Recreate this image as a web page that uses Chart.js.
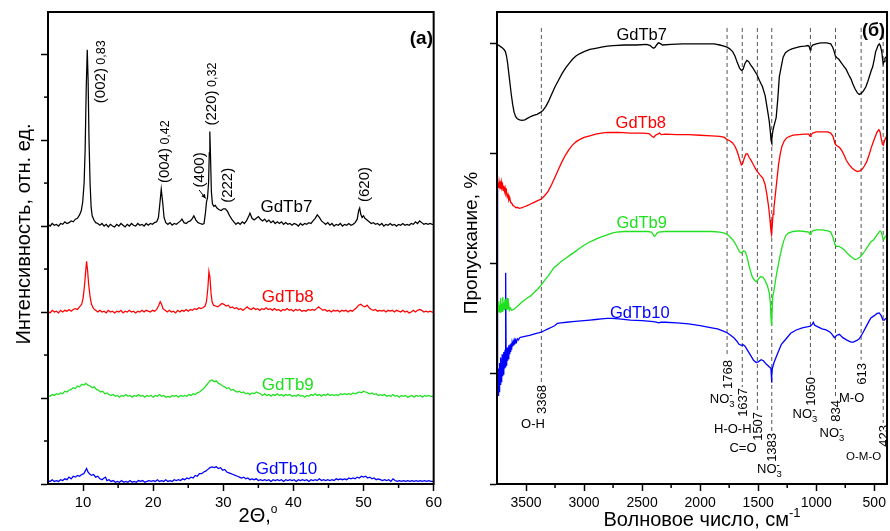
<!DOCTYPE html>
<html><head><meta charset="utf-8">
<script src="https://cdn.jsdelivr.net/npm/chart.js@4.4.1/dist/chart.umd.min.js"></script>
<style>
html,body{margin:0;padding:0;background:#fff;}
#wrap{position:relative;width:890px;height:531px;background:#fff;}
#c1{position:absolute;left:0;top:0;}
#c2{position:absolute;left:445px;top:0;}
</style></head><body>
<div id="wrap"><canvas id="c1" width="445" height="531"></canvas><canvas id="c2" width="445" height="531"></canvas></div>
<script>
// ---------------- DATA: XRD (panel a) ----------------
const seriesNames = ['GdTb7', 'GdTb8', 'GdTb9', 'GdTb10'];
const xrdTicksX = [10, 20, 30, 40, 50, 60];
const xrdMinorX = [15, 25, 35, 45, 55];
const xrdTicksY = [0, 1, 2, 3, 4, 5];
const xrdMinorY = [0.5, 1.5, 2.5, 3.5, 4.5];

const xrdGdTb7 = [[5.0,3.02],[5.3,3.00],[5.6,3.03],[5.9,3.01],[6.2,3.02],[6.5,3.00],[6.8,3.03],[7.1,3.02],[7.4,3.05],[7.7,3.03],[8.0,3.04],[8.3,3.06],[8.6,3.05],[8.9,3.08],[9.2,3.09],[9.5,3.13],[9.75,3.18],[9.95,3.28],[10.15,3.5],[10.3,3.9],[10.45,4.6],[10.6,5.05],[10.72,4.7],[10.85,4.0],[11.0,3.5],[11.15,3.22],[11.3,3.12],[11.55,3.07],[11.8,3.04],[12.1,3.03],[12.4,3.01],[12.7,3.03],[13.0,3.00],[13.3,3.02],[13.6,2.99],[13.9,3.02],[14.2,3.00],[14.5,2.99],[14.8,3.02],[15.1,3.00],[15.4,3.03],[15.7,3.01],[16.0,2.99],[16.3,3.02],[16.6,3.00],[16.9,3.03],[17.2,3.01],[17.5,3.00],[17.8,3.03],[18.1,3.01],[18.4,3.02],[18.7,3.00],[19.0,3.03],[19.3,3.01],[19.6,3.03],[19.9,3.02],[20.2,3.04],[20.5,3.05],[20.75,3.1],[20.95,3.26],[21.15,3.43],[21.35,3.28],[21.55,3.1],[21.8,3.04],[22.1,3.02],[22.4,3.04],[22.7,3.01],[23.0,3.03],[23.3,3.02],[23.6,3.04],[23.9,3.06],[24.1,3.08],[24.4,3.04],[24.7,3.03],[25.0,3.05],[25.3,3.06],[25.6,3.09],[25.8,3.12],[26.1,3.07],[26.4,3.04],[26.7,3.03],[27.0,3.02],[27.25,3.03],[27.45,3.15],[27.6,3.28],[27.75,3.33],[27.9,3.5],[28.0,3.85],[28.08,4.10],[28.18,3.8],[28.3,3.4],[28.45,3.26],[28.65,3.23],[28.85,3.24],[29.1,3.21],[29.4,3.19],[29.7,3.18],[30.0,3.20],[30.3,3.20],[30.6,3.17],[30.9,3.12],[31.2,3.08],[31.5,3.05],[31.8,3.02],[32.1,3.04],[32.4,3.02],[32.7,3.05],[33.0,3.03],[33.3,3.06],[33.6,3.11],[33.8,3.15],[34.1,3.09],[34.4,3.07],[34.7,3.09],[35.0,3.11],[35.3,3.08],[35.6,3.06],[35.9,3.08],[36.2,3.05],[36.5,3.07],[36.8,3.04],[37.1,3.06],[37.4,3.03],[37.7,3.05],[38.0,3.03],[38.3,3.05],[38.6,3.02],[38.9,3.04],[39.2,3.02],[39.5,3.03],[39.8,3.01],[40.1,3.03],[40.4,3.02],[40.7,3.00],[41.0,3.03],[41.3,3.01],[41.6,3.03],[41.9,3.02],[42.2,3.04],[42.5,3.03],[42.8,3.06],[43.1,3.09],[43.4,3.13],[43.7,3.10],[44.0,3.06],[44.3,3.04],[44.6,3.02],[44.9,3.04],[45.2,3.01],[45.5,3.03],[45.8,3.00],[46.1,3.02],[46.4,3.01],[46.7,3.03],[47.0,3.00],[47.3,3.02],[47.6,3.01],[47.9,3.03],[48.2,3.01],[48.5,3.02],[48.8,3.04],[49.1,3.08],[49.3,3.18],[49.45,3.21],[49.6,3.14],[49.8,3.10],[50.0,3.12],[50.2,3.09],[50.5,3.07],[50.8,3.05],[51.1,3.03],[51.4,3.04],[51.7,3.02],[52.0,3.03],[52.3,3.01],[52.6,3.03],[52.9,3.00],[53.2,3.02],[53.5,3.01],[53.8,3.03],[54.1,3.01],[54.4,3.02],[54.7,3.00],[55.0,3.02],[55.3,3.01],[55.6,3.03],[55.9,3.01],[56.2,3.02],[56.5,3.01],[56.8,3.03],[57.1,3.02],[57.4,3.05],[57.7,3.03],[58.0,3.06],[58.3,3.04],[58.6,3.02],[58.9,3.03],[59.2,3.02],[59.5,3.03],[59.8,3.02],[60.0,3.02]];

const xrdGdTb8 = [[5.0,2.01],[5.3,1.99],[5.6,2.02],[5.9,2.00],[6.2,2.01],[6.5,1.99],[6.8,2.02],[7.1,2.00],[7.4,2.02],[7.7,2.01],[8.0,2.03],[8.3,2.01],[8.6,2.03],[8.9,2.04],[9.2,2.03],[9.5,2.06],[9.8,2.09],[10.0,2.16],[10.2,2.30],[10.35,2.45],[10.5,2.59],[10.65,2.48],[10.8,2.32],[11.0,2.18],[11.2,2.09],[11.5,2.04],[11.8,2.02],[12.1,2.00],[12.4,2.02],[12.7,2.00],[13.0,2.01],[13.3,1.99],[13.6,2.02],[13.9,2.00],[14.2,2.01],[14.5,1.99],[14.8,2.01],[15.1,2.00],[15.4,2.02],[15.7,1.99],[16.0,2.01],[16.3,2.00],[16.6,2.02],[16.9,2.00],[17.2,2.01],[17.5,1.99],[17.8,2.01],[18.1,2.00],[18.4,2.02],[18.7,2.00],[19.0,2.02],[19.3,2.01],[19.6,2.00],[19.9,2.02],[20.2,2.01],[20.5,2.03],[20.8,2.08],[21.0,2.12],[21.2,2.09],[21.4,2.04],[21.7,2.02],[22.0,2.00],[22.3,2.02],[22.6,2.00],[22.9,2.01],[23.2,1.99],[23.5,2.02],[23.8,2.00],[24.1,2.02],[24.4,2.01],[24.7,2.03],[25.0,2.01],[25.3,2.03],[25.6,2.02],[25.9,2.04],[26.2,2.03],[26.5,2.05],[26.8,2.04],[27.1,2.05],[27.4,2.07],[27.6,2.12],[27.8,2.28],[27.95,2.47],[28.1,2.40],[28.25,2.22],[28.4,2.12],[28.6,2.08],[28.9,2.07],[29.2,2.06],[29.5,2.08],[29.8,2.10],[30.1,2.09],[30.4,2.07],[30.7,2.08],[31.0,2.05],[31.3,2.06],[31.6,2.04],[31.9,2.05],[32.2,2.03],[32.5,2.04],[32.8,2.02],[33.1,2.04],[33.4,2.06],[33.7,2.04],[34.0,2.03],[34.3,2.05],[34.6,2.03],[34.9,2.04],[35.2,2.02],[35.5,2.04],[35.8,2.03],[36.1,2.05],[36.4,2.03],[36.7,2.04],[37.0,2.02],[37.3,2.04],[37.6,2.02],[37.9,2.03],[38.2,2.01],[38.5,2.03],[38.8,2.02],[39.1,2.04],[39.4,2.02],[39.7,2.03],[40.0,2.01],[40.3,2.03],[40.6,2.02],[40.9,2.03],[41.2,2.01],[41.5,2.02],[41.8,2.01],[42.1,2.03],[42.4,2.02],[42.7,2.03],[43.0,2.02],[43.3,2.04],[43.6,2.06],[43.9,2.04],[44.2,2.02],[44.5,2.03],[44.8,2.01],[45.1,2.02],[45.4,2.00],[45.7,2.02],[46.0,2.01],[46.3,2.02],[46.6,2.00],[46.9,2.02],[47.2,2.01],[47.5,2.02],[47.8,2.00],[48.1,2.02],[48.4,2.01],[48.7,2.03],[49.0,2.05],[49.3,2.08],[49.6,2.09],[49.9,2.07],[50.2,2.06],[50.5,2.08],[50.8,2.05],[51.1,2.03],[51.4,2.02],[51.7,2.03],[52.0,2.01],[52.3,2.02],[52.6,2.01],[52.9,2.02],[53.2,2.00],[53.5,2.02],[53.8,2.01],[54.1,2.02],[54.4,2.00],[54.7,2.02],[55.0,2.01],[55.3,2.00],[55.6,2.02],[55.9,2.00],[56.2,2.01],[56.5,1.99],[56.8,2.00],[57.1,2.02],[57.4,2.00],[57.7,2.02],[58.0,2.03],[58.3,2.02],[58.6,2.00],[58.9,2.01],[59.2,2.00],[59.5,2.01],[59.8,2.00],[60.0,2.00]];

const xrdGdTb9 = [[5.0,1.03],[5.3,1.02],[5.6,1.04],[5.9,1.03],[6.2,1.05],[6.5,1.04],[6.8,1.06],[7.1,1.05],[7.4,1.08],[7.7,1.07],[8.0,1.09],[8.3,1.10],[8.6,1.12],[8.9,1.11],[9.2,1.14],[9.5,1.13],[9.8,1.16],[10.1,1.15],[10.4,1.17],[10.7,1.15],[11.0,1.14],[11.3,1.12],[11.6,1.13],[11.9,1.10],[12.2,1.09],[12.5,1.07],[12.8,1.08],[13.1,1.05],[13.4,1.06],[13.7,1.04],[14.0,1.03],[14.3,1.04],[14.6,1.02],[14.9,1.03],[15.2,1.01],[15.5,1.03],[15.8,1.02],[16.1,1.04],[16.4,1.02],[16.7,1.03],[17.0,1.01],[17.3,1.03],[17.6,1.02],[17.9,1.04],[18.2,1.02],[18.5,1.03],[18.8,1.01],[19.1,1.03],[19.4,1.02],[19.7,1.03],[20.0,1.01],[20.3,1.03],[20.6,1.02],[20.9,1.04],[21.2,1.02],[21.5,1.03],[21.8,1.01],[22.1,1.02],[22.4,1.01],[22.7,1.03],[23.0,1.02],[23.3,1.03],[23.6,1.01],[23.9,1.03],[24.2,1.02],[24.5,1.03],[24.8,1.02],[25.1,1.04],[25.4,1.03],[25.7,1.05],[26.0,1.04],[26.3,1.06],[26.6,1.07],[26.9,1.09],[27.2,1.11],[27.5,1.14],[27.8,1.17],[28.1,1.20],[28.4,1.21],[28.7,1.19],[29.0,1.20],[29.3,1.17],[29.6,1.16],[29.9,1.14],[30.2,1.13],[30.5,1.11],[30.8,1.12],[31.1,1.09],[31.4,1.10],[31.7,1.08],[32.0,1.07],[32.3,1.08],[32.6,1.06],[32.9,1.07],[33.2,1.05],[33.5,1.06],[33.8,1.04],[34.1,1.06],[34.4,1.05],[34.7,1.07],[35.0,1.06],[35.3,1.05],[35.6,1.03],[35.9,1.05],[36.2,1.03],[36.5,1.04],[36.8,1.02],[37.1,1.04],[37.4,1.03],[37.7,1.05],[38.0,1.03],[38.3,1.04],[38.6,1.02],[38.9,1.04],[39.2,1.03],[39.5,1.04],[39.8,1.02],[40.1,1.03],[40.4,1.02],[40.7,1.04],[41.0,1.02],[41.3,1.03],[41.6,1.01],[41.9,1.03],[42.2,1.02],[42.5,1.04],[42.8,1.03],[43.1,1.05],[43.4,1.03],[43.7,1.04],[44.0,1.02],[44.3,1.04],[44.6,1.03],[44.9,1.05],[45.2,1.03],[45.5,1.04],[45.8,1.03],[46.1,1.04],[46.4,1.03],[46.7,1.05],[47.0,1.04],[47.3,1.05],[47.6,1.04],[47.9,1.05],[48.2,1.04],[48.5,1.06],[48.8,1.05],[49.1,1.06],[49.4,1.07],[49.7,1.06],[50.0,1.08],[50.3,1.07],[50.6,1.06],[50.9,1.05],[51.2,1.06],[51.5,1.04],[51.8,1.05],[52.1,1.03],[52.4,1.04],[52.7,1.03],[53.0,1.04],[53.3,1.02],[53.6,1.03],[53.9,1.02],[54.2,1.04],[54.5,1.02],[54.8,1.03],[55.1,1.01],[55.4,1.03],[55.7,1.02],[56.0,1.03],[56.3,1.01],[56.6,1.02],[56.9,1.03],[57.2,1.01],[57.5,1.03],[57.8,1.02],[58.1,1.03],[58.4,1.01],[58.7,1.03],[59.0,1.02],[59.3,1.03],[59.6,1.02],[60.0,1.02]];

const xrdGdTb10 = [[5.0,0.04],[5.3,0.03],[5.6,0.05],[5.9,0.03],[6.2,0.04],[6.5,0.03],[6.8,0.05],[7.1,0.04],[7.4,0.06],[7.7,0.05],[8.0,0.08],[8.3,0.06],[8.6,0.09],[8.9,0.08],[9.2,0.10],[9.5,0.09],[9.8,0.11],[10.1,0.12],[10.3,0.15],[10.5,0.18],[10.7,0.14],[10.9,0.12],[11.2,0.10],[11.5,0.11],[11.8,0.08],[12.1,0.09],[12.4,0.06],[12.7,0.05],[13.0,0.07],[13.2,0.08],[13.4,0.04],[13.7,0.05],[14.0,0.03],[14.3,0.04],[14.6,0.02],[14.9,0.03],[15.2,0.02],[15.5,0.04],[15.8,0.02],[16.1,0.03],[16.4,0.02],[16.7,0.04],[17.0,0.02],[17.3,0.03],[17.6,0.02],[17.9,0.04],[18.2,0.03],[18.5,0.04],[18.8,0.02],[19.1,0.03],[19.4,0.04],[19.7,0.03],[20.0,0.04],[20.3,0.03],[20.6,0.05],[20.9,0.03],[21.2,0.04],[21.5,0.03],[21.8,0.05],[22.1,0.03],[22.4,0.04],[22.7,0.03],[23.0,0.05],[23.3,0.04],[23.6,0.05],[23.9,0.04],[24.2,0.06],[24.5,0.05],[24.8,0.07],[25.1,0.06],[25.4,0.08],[25.7,0.07],[26.0,0.10],[26.3,0.09],[26.6,0.12],[26.9,0.12],[27.2,0.14],[27.5,0.15],[27.8,0.17],[28.1,0.19],[28.4,0.20],[28.7,0.19],[29.0,0.20],[29.3,0.18],[29.6,0.19],[29.9,0.16],[30.2,0.17],[30.5,0.14],[30.8,0.13],[31.1,0.12],[31.4,0.11],[31.7,0.10],[32.0,0.09],[32.3,0.08],[32.6,0.07],[32.9,0.08],[33.2,0.06],[33.5,0.07],[33.8,0.05],[34.1,0.06],[34.4,0.05],[34.7,0.06],[35.0,0.04],[35.3,0.05],[35.6,0.04],[35.9,0.05],[36.2,0.04],[36.5,0.05],[36.8,0.03],[37.1,0.05],[37.4,0.04],[37.7,0.05],[38.0,0.04],[38.3,0.05],[38.6,0.03],[38.9,0.05],[39.2,0.04],[39.5,0.05],[39.8,0.04],[40.1,0.05],[40.4,0.03],[40.7,0.05],[41.0,0.04],[41.3,0.05],[41.6,0.04],[41.9,0.05],[42.2,0.03],[42.5,0.05],[42.8,0.04],[43.1,0.05],[43.4,0.04],[43.7,0.06],[44.0,0.04],[44.3,0.05],[44.6,0.04],[44.9,0.05],[45.2,0.04],[45.5,0.05],[45.8,0.04],[46.1,0.06],[46.4,0.05],[46.7,0.06],[47.0,0.05],[47.3,0.06],[47.6,0.05],[47.9,0.07],[48.2,0.06],[48.5,0.07],[48.8,0.06],[49.1,0.08],[49.4,0.07],[49.7,0.09],[50.0,0.08],[50.3,0.09],[50.6,0.07],[50.9,0.08],[51.2,0.06],[51.5,0.07],[51.8,0.05],[52.1,0.06],[52.4,0.05],[52.7,0.04],[53.0,0.05],[53.3,0.04],[53.6,0.05],[53.9,0.03],[54.2,0.06],[54.5,0.04],[54.8,0.03],[55.1,0.04],[55.4,0.03],[55.7,0.04],[56.0,0.03],[56.3,0.04],[56.6,0.03],[56.9,0.04],[57.2,0.03],[57.5,0.04],[57.8,0.03],[58.1,0.04],[58.4,0.03],[58.7,0.04],[59.0,0.03],[59.3,0.04],[59.6,0.03],[60.0,0.03]];

// peak annotations: [text, small text, 2theta, bottom value]
const xrdPeakLabels = [['(002)',' 0,83',12.4,4.43],['(004)',' 0,42',21.46,3.5],['(400)','',26.5,3.45],['(220)',' 0,32',28.15,4.17],['(222)','',30.4,3.27],['(620)','',50.05,3.28]];
const xrdArrow = [[26.55,3.42],[27.5,3.32]];
const xrdNameAt = [[39.0,3.24],[39.2,2.19],[39.2,1.17],[39.0,0.19]];

// ---------------- DATA: IR (panel б) ----------------
const irTicksX = [3500, 3000, 2500, 2000, 1500, 1000, 500];
const irMinorX = [3250, 2750, 2250, 1750, 1250, 750];
const irTicksY = [0, 1, 2, 3, 4];

const irGdTb7 = [[3748,3.98],[3735,3.99],[3720,3.975],[3705,3.965],[3690,3.95],[3678,3.93],[3668,3.89],[3658,3.82],[3648,3.73],[3638,3.64],[3627,3.54],[3615,3.45],[3603,3.38],[3590,3.34],[3575,3.32],[3555,3.31],[3535,3.305],[3510,3.31],[3485,3.325],[3460,3.34],[3435,3.35],[3405,3.36],[3380,3.375],[3355,3.395],[3330,3.43],[3305,3.48],[3280,3.54],[3250,3.61],[3220,3.67],[3190,3.73],[3160,3.78],[3130,3.82],[3100,3.86],[3070,3.89],[3040,3.91],[3000,3.93],[2950,3.95],[2900,3.96],[2850,3.97],[2800,3.98],[2750,3.985],[2650,3.99],[2550,3.99],[2460,3.995],[2430,3.985],[2415,3.97],[2400,3.96],[2388,3.97],[2375,3.99],[2360,4.01],[2345,4.005],[2325,3.99],[2250,3.995],[2150,4.0],[2050,4.0],[1950,4.0],[1880,4.0],[1830,3.99],[1795,3.98],[1768,3.97],[1745,3.955],[1720,3.93],[1700,3.89],[1680,3.83],[1660,3.78],[1645,3.76],[1630,3.77],[1615,3.82],[1598,3.85],[1583,3.84],[1565,3.81],[1545,3.78],[1525,3.745],[1510,3.72],[1490,3.67],[1463,3.61],[1440,3.53],[1420,3.40],[1405,3.30],[1395,3.2],[1389,3.12],[1385,3.10],[1381,3.13],[1375,3.2],[1365,3.25],[1345,3.33],[1331,3.5],[1318,3.7],[1302,3.79],[1285,3.88],[1265,3.92],[1240,3.94],[1210,3.955],[1180,3.965],[1140,3.975],[1100,3.98],[1070,3.985],[1060,3.975],[1052,3.945],[1045,3.97],[1030,3.99],[1000,4.0],[960,4.01],[910,4.01],[875,4.0],[858,3.97],[845,3.93],[835,3.89],[822,3.875],[805,3.86],[785,3.83],[765,3.80],[743,3.77],[720,3.72],[700,3.68],[686,3.64],[665,3.59],[645,3.555],[629,3.54],[612,3.55],[592,3.575],[572,3.61],[555,3.66],[540,3.71],[525,3.76],[514,3.79],[500,3.86],[488,3.93],[480,3.95],[468,3.985],[457,4.0],[448,3.985],[440,3.95],[434,3.92],[428,3.86],[423,3.82],[416,3.84],[408,3.87],[400,3.88],[390,3.89]];

const irGdTb8 = [[3748,2.70],[3742,2.74],[3737,2.69],[3732,2.75],[3727,2.71],[3722,2.73],[3717,2.68],[3712,2.74],[3707,2.70],[3702,2.72],[3697,2.67],[3692,2.71],[3686,2.66],[3680,2.69],[3674,2.64],[3668,2.66],[3662,2.61],[3655,2.63],[3648,2.58],[3640,2.60],[3632,2.56],[3622,2.55],[3612,2.53],[3600,2.525],[3588,2.51],[3575,2.515],[3560,2.505],[3540,2.51],[3515,2.52],[3490,2.53],[3460,2.545],[3430,2.56],[3400,2.575],[3368,2.59],[3340,2.62],[3310,2.66],[3280,2.72],[3250,2.79],[3220,2.86],[3190,2.93],[3160,2.99],[3130,3.04],[3100,3.08],[3070,3.11],[3040,3.13],[3000,3.15],[2950,3.165],[2900,3.18],[2850,3.19],[2800,3.195],[2700,3.195],[2600,3.19],[2500,3.19],[2440,3.185],[2415,3.16],[2400,3.15],[2385,3.17],[2365,3.18],[2350,3.19],[2335,3.175],[2300,3.18],[2200,3.175],[2100,3.175],[2000,3.17],[1900,3.165],[1830,3.16],[1790,3.15],[1768,3.13],[1745,3.12],[1720,3.10],[1700,3.07],[1680,3.02],[1660,2.95],[1645,2.90],[1635,2.91],[1620,2.96],[1605,3.0],[1592,3.0],[1578,2.97],[1560,2.94],[1540,2.90],[1520,2.86],[1507,2.84],[1485,2.81],[1460,2.78],[1440,2.72],[1425,2.63],[1410,2.52],[1398,2.4],[1390,2.3],[1385,2.27],[1380,2.33],[1372,2.45],[1365,2.50],[1355,2.60],[1340,2.75],[1325,2.90],[1310,3.0],[1295,3.07],[1275,3.12],[1250,3.15],[1200,3.17],[1150,3.175],[1100,3.18],[1065,3.18],[1052,3.16],[1045,3.175],[1030,3.19],[1000,3.2],[950,3.2],[900,3.2],[875,3.19],[855,3.16],[840,3.10],[830,3.08],[815,3.07],[800,3.06],[780,3.03],[760,2.99],[740,2.94],[715,2.90],[690,2.87],[665,2.85],[645,2.84],[625,2.845],[605,2.86],[585,2.89],[565,2.93],[545,2.99],[525,3.06],[505,3.12],[490,3.16],[475,3.20],[460,3.22],[450,3.2],[440,3.14],[430,3.09],[422,3.08],[412,3.12],[400,3.15],[390,3.16]];

const irGdTb9 = [[3748,1.56],[3743,1.62],[3739,1.57],[3735,1.66],[3731,1.58],[3727,1.63],[3723,1.56],[3718,1.69],[3714,1.58],[3710,1.64],[3705,1.57],[3700,1.70],[3696,1.59],[3691,1.65],[3686,1.58],[3681,1.68],[3676,1.59],[3671,1.66],[3666,1.58],[3661,1.69],[3656,1.59],[3650,1.64],[3644,1.58],[3636,1.60],[3625,1.58],[3612,1.585],[3600,1.59],[3580,1.61],[3560,1.63],[3540,1.65],[3520,1.665],[3490,1.69],[3460,1.71],[3430,1.74],[3400,1.77],[3368,1.81],[3340,1.85],[3310,1.89],[3280,1.935],[3260,1.965],[3230,1.99],[3200,2.02],[3160,2.05],[3120,2.08],[3080,2.11],[3040,2.14],[3000,2.17],[2960,2.195],[2920,2.215],[2880,2.235],[2840,2.25],[2800,2.265],[2760,2.28],[2720,2.29],[2650,2.295],[2550,2.295],[2450,2.295],[2420,2.29],[2405,2.27],[2395,2.25],[2385,2.26],[2375,2.275],[2360,2.29],[2300,2.295],[2200,2.295],[2100,2.295],[2000,2.295],[1900,2.295],[1830,2.29],[1790,2.28],[1768,2.27],[1745,2.25],[1720,2.22],[1700,2.19],[1680,2.15],[1660,2.11],[1645,2.10],[1635,2.11],[1625,2.12],[1610,2.11],[1595,2.06],[1580,1.99],[1565,1.93],[1550,1.88],[1530,1.85],[1515,1.84],[1500,1.86],[1480,1.885],[1460,1.88],[1440,1.85],[1420,1.80],[1405,1.74],[1395,1.65],[1389,1.5],[1385,1.44],[1381,1.5],[1375,1.7],[1365,1.75],[1355,1.82],[1340,1.92],[1325,2.0],[1310,2.08],[1295,2.15],[1280,2.21],[1260,2.26],[1240,2.28],[1200,2.295],[1150,2.30],[1100,2.295],[1065,2.29],[1052,2.27],[1045,2.285],[1030,2.30],[1000,2.31],[950,2.31],[900,2.30],[875,2.29],[855,2.24],[840,2.18],[825,2.16],[805,2.16],[785,2.15],[760,2.13],[735,2.10],[705,2.07],[680,2.05],[665,2.04],[650,2.045],[625,2.06],[600,2.09],[580,2.12],[555,2.16],[530,2.20],[505,2.22],[485,2.25],[465,2.28],[450,2.30],[440,2.29],[428,2.24],[420,2.22],[410,2.24],[400,2.255],[390,2.26]];

const irGdTb10 = [[3748,2.70],[3746,1.2],[3744,0.85],[3741,1.05],[3738,0.80],[3735,1.00],[3732,0.84],[3729,1.10],[3726,0.88],[3723,1.05],[3720,0.90],[3717,1.15],[3714,0.93],[3711,1.10],[3708,0.95],[3705,1.18],[3702,0.98],[3699,1.12],[3696,1.00],[3693,1.20],[3690,1.02],[3687,1.15],[3684,1.05],[3681,1.22],[3678,1.06],[3675,1.10],[3673,1.92],[3671,1.08],[3668,1.18],[3665,1.10],[3662,1.24],[3659,1.12],[3656,1.22],[3653,1.14],[3650,1.26],[3647,1.16],[3644,1.24],[3640,1.18],[3636,1.27],[3632,1.20],[3628,1.28],[3624,1.22],[3620,1.28],[3615,1.25],[3610,1.29],[3605,1.26],[3600,1.30],[3595,1.27],[3590,1.31],[3582,1.29],[3575,1.32],[3565,1.31],[3555,1.33],[3540,1.335],[3520,1.34],[3500,1.345],[3470,1.35],[3440,1.36],[3410,1.37],[3385,1.375],[3368,1.38],[3340,1.395],[3310,1.41],[3280,1.425],[3250,1.44],[3230,1.46],[3200,1.465],[3150,1.47],[3100,1.475],[3050,1.48],[3000,1.485],[2950,1.49],[2900,1.495],[2850,1.50],[2800,1.505],[2760,1.505],[2700,1.50],[2600,1.49],[2500,1.485],[2400,1.475],[2370,1.47],[2355,1.465],[2340,1.47],[2300,1.47],[2200,1.465],[2100,1.455],[2000,1.44],[1900,1.42],[1850,1.41],[1800,1.39],[1768,1.375],[1740,1.355],[1710,1.33],[1685,1.30],[1665,1.27],[1645,1.26],[1630,1.265],[1615,1.255],[1589,1.21],[1560,1.16],[1540,1.125],[1517,1.105],[1500,1.11],[1474,1.13],[1455,1.12],[1431,1.09],[1405,1.065],[1390,1.05],[1386,0.98],[1384,0.92],[1382,0.99],[1378,1.05],[1365,1.10],[1350,1.14],[1331,1.19],[1300,1.27],[1259,1.32],[1220,1.37],[1172,1.40],[1120,1.42],[1070,1.43],[1050,1.435],[1035,1.45],[1025,1.47],[1015,1.445],[990,1.43],[950,1.41],[915,1.40],[880,1.38],[860,1.355],[844,1.33],[825,1.35],[801,1.36],[770,1.33],[740,1.31],[700,1.29],[680,1.29],[650,1.305],[629,1.32],[600,1.37],[570,1.43],[545,1.48],[529,1.51],[500,1.53],[475,1.55],[457,1.555],[440,1.53],[425,1.49],[414,1.49],[400,1.505],[390,1.50]];

// band positions (cm-1) with dashed-line top/bottom values
const irBands = [3368, 1768, 1637, 1507, 1383, 1050, 834, 613, 423];
const irBandTop = 4.145;
const irBandEnd = [0.92, 1.155, 0.88, 0.67, 0.47, 0.99, 0.78, 1.13, 0.555];
// number label top value for each band
const irBandNumTop = [0.90, 1.127, 0.873, 0.655, 0.464, 0.973, 0.764, 1.10, 0.536];
// group labels: [text, x (cm-1), y value, align]
const irGroupLabels = [['O-H',3337,0.555,'right'],['NO3',1703,0.78,'right'],['H-O-H',1557,0.505,'right'],['C=O',1514,0.336,'right'],['NO3',1403,0.14,'center'],['NO3',990,0.64,'right'],['NO3',758,0.47,'right'],['M-O',586,0.79,'right'],['O-M-O',440,0.255,'right']];
const irNameAt = [[2503,4.09],[2511,3.29],[2503,2.38],[2520,1.56]];

// ---------------- rendering ----------------
const FONT = '"Liberation Sans", Arial, Helvetica, sans-serif';
const colors = ['#000000', '#ff0000', '#1ee01e', '#0000ff'];
const toXY = a => a.map(p => ({x: p[0], y: p[1]}));

function fontStr(p) { return (p.bold ? 'bold ' : '') + p.size + 'px ' + FONT; }

function drawRich(ctx, item, xs, ys) {
  const px = item.px != null ? item.px : xs.getPixelForValue(item.x);
  const py = item.py != null ? item.py : ys.getPixelForValue(item.y);
  const parts = item.parts;
  const widths = parts.map(p => { ctx.font = fontStr(p); return ctx.measureText(p.s).width; });
  const offs = []; let cur = 0, stackW = 0;
  parts.forEach((p, i) => {
    offs.push(cur);
    if (p.stack) { stackW = widths[i]; }
    else { cur += Math.max(widths[i], stackW); stackW = 0; }
  });
  const total = cur;
  ctx.save();
  ctx.translate(px, py);
  if (item.rot) ctx.rotate(item.rot);
  const start = item.align === 'right' ? -total : (item.align === 'center' ? -total / 2 : 0);
  const base = parts[0].size * 0.36;
  ctx.fillStyle = item.color || '#000';
  ctx.textAlign = 'left';
  ctx.textBaseline = 'alphabetic';
  parts.forEach((p, i) => { ctx.font = fontStr(p); ctx.fillText(p.s, start + offs[i], base + (p.dy || 0)); });
  ctx.restore();
}

const decorPlugin = {
  id: 'decor',
  afterDraw(chart, args, opts) {
    const ctx = chart.ctx, ca = chart.chartArea, xs = chart.scales.x, ys = chart.scales.y;
    ctx.save();
    ctx.strokeStyle = '#000';
    ctx.lineWidth = 2;
    ctx.strokeRect(ca.left, ca.top, ca.right - ca.left, ca.bottom - ca.top);
    ctx.lineWidth = 1.5;
    (opts.minorX || []).forEach(v => { const p = xs.getPixelForValue(v); ctx.beginPath(); ctx.moveTo(p, ca.bottom); ctx.lineTo(p, ca.bottom + 4); ctx.stroke(); });
    (opts.minorY || []).forEach(v => { const p = ys.getPixelForValue(v); ctx.beginPath(); ctx.moveTo(ca.left, p); ctx.lineTo(ca.left - 4, p); ctx.stroke(); });
    if (opts.arrow) {
      const a = opts.arrow;
      const x1 = xs.getPixelForValue(a[0][0]), y1 = ys.getPixelForValue(a[0][1]);
      const x2 = xs.getPixelForValue(a[1][0]), y2 = ys.getPixelForValue(a[1][1]);
      ctx.lineWidth = 1; ctx.fillStyle = '#000';
      ctx.beginPath(); ctx.moveTo(x1, y1); ctx.lineTo(x2, y2); ctx.stroke();
      const ang = Math.atan2(y2 - y1, x2 - x1);
      ctx.beginPath();
      ctx.moveTo(x2, y2);
      ctx.lineTo(x2 - 5 * Math.cos(ang - 0.45), y2 - 5 * Math.sin(ang - 0.45));
      ctx.lineTo(x2 - 5 * Math.cos(ang + 0.45), y2 - 5 * Math.sin(ang + 0.45));
      ctx.closePath(); ctx.fill();
    }
    (opts.texts || []).forEach(t => drawRich(ctx, t, xs, ys));
    ctx.restore();
  }
};

function axisCommon(extra) {
  return Object.assign({
    type: 'linear',
    grid: { drawOnChartArea: false, drawTicks: true, tickLength: 7, tickWidth: 1.5, tickColor: '#000' },
    border: { display: true, width: 2, color: '#000' }
  }, extra);
}

// ---- left chart (XRD) ----
const xrdSeries = [xrdGdTb7, xrdGdTb8, xrdGdTb9, xrdGdTb10];
const xrdTexts = [];
xrdPeakLabels.forEach(l => {
  const parts = [{s: l[0], size: 15}];
  if (l[1]) parts.push({s: l[1], size: 12.5});
  xrdTexts.push({parts, x: l[2], y: l[3], rot: -Math.PI / 2, align: 'left'});
});
seriesNames.forEach((n, i) => xrdTexts.push({parts: [{s: n, size: 17}], x: xrdNameAt[i][0], y: xrdNameAt[i][1], align: 'center', color: colors[i]}));
xrdTexts.push({parts: [{s: '(a)', size: 19, bold: true}], px: 433, py: 37, align: 'right'});
xrdTexts.push({parts: [{s: 'Интенсивность, отн. ед.', size: 20}], px: 23, py: 234, rot: -Math.PI / 2, align: 'center'});
xrdTexts.push({parts: [{s: '2Θ,', size: 20}, {s: 'o', size: 12, dy: -9}], px: 258, py: 515, align: 'center'});

new Chart(document.getElementById('c1'), {
  type: 'line',
  data: {
    datasets: xrdSeries.map((s, i) => ({
      label: seriesNames[i], data: toXY(s), borderColor: colors[i], borderWidth: 1.25,
      pointRadius: 0, tension: 0, fill: false
    }))
  },
  options: {
    responsive: false, animation: false, events: [],
    layout: { padding: { left: 0, top: 12, right: 4, bottom: 0 } },
    plugins: { legend: { display: false }, tooltip: { enabled: false },
      decor: { minorX: xrdMinorX, minorY: xrdMinorY, arrow: xrdArrow, texts: xrdTexts } },
    scales: {
      x: axisCommon({ min: 5, max: 60,
        afterFit: s => { s.height = 47; },
        afterBuildTicks: s => { s.ticks = xrdTicksX.map(v => ({value: v})); },
        ticks: { color: '#000', font: { family: FONT, size: 15 }, padding: 3, maxRotation: 0, autoSkip: false, callback: v => String(v) } }),
      y: axisCommon({ min: 0, max: 5.49,
        afterFit: s => { s.width = 48; },
        afterBuildTicks: s => { s.ticks = xrdTicksY.map(v => ({value: v})); },
        ticks: { display: false } })
    }
  },
  plugins: [decorPlugin]
});

// ---- right chart (IR) ----
const irSeries = [irGdTb7, irGdTb8, irGdTb9, irGdTb10];
const irTexts = [];
irBands.forEach((b, i) => irTexts.push({parts: [{s: String(b), size: 13}], x: b, y: irBandNumTop[i], rot: -Math.PI / 2, align: 'right'}));
irGroupLabels.forEach(g => {
  let parts;
  if (g[0] === 'NO3') parts = [{s: 'NO', size: 13}, {s: '3', size: 9.5, dy: 4, stack: true}, {s: '-', size: 10, dy: -5}];
  else if (g[0] === 'O-M-O') parts = [{s: g[0], size: 11.5}];
  else parts = [{s: g[0], size: 13}];
  irTexts.push({parts, x: g[1], y: g[2], align: g[3]});
});
seriesNames.forEach((n, i) => irTexts.push({parts: [{s: n, size: 16.5}], x: irNameAt[i][0], y: irNameAt[i][1], align: 'center', color: colors[i]}));
irTexts.push({parts: [{s: '(б)', size: 18, bold: true}], px: 440, py: 30, align: 'right'});
irTexts.push({parts: [{s: 'Пропускание, %', size: 19}], px: 25, py: 243, rot: -Math.PI / 2, align: 'center'});
irTexts.push({parts: [{s: 'Волновое число, см', size: 20}, {s: '-1', size: 13, dy: -9}], px: 257, py: 519, align: 'center'});

const irDatasets = irSeries.map((s, i) => ({
  label: seriesNames[i], data: toXY(s), borderColor: colors[i], borderWidth: 1.3,
  pointRadius: 0, tension: 0, fill: false
}));
irBands.forEach((b, i) => irDatasets.push({
  label: 'band ' + b, data: [{x: b, y: irBandTop}, {x: b, y: irBandEnd[i]}],
  borderColor: '#555', borderWidth: 1, borderDash: [4, 3], pointRadius: 0, fill: false
}));

new Chart(document.getElementById('c2'), {
  type: 'line',
  data: { datasets: irDatasets },
  options: {
    responsive: false, animation: false, events: [],
    layout: { padding: { left: 0, top: 12, right: 2, bottom: 0 } },
    plugins: { legend: { display: false }, tooltip: { enabled: false },
      decor: { minorX: irMinorX, minorY: [], texts: irTexts } },
    scales: {
      x: axisCommon({ min: 390, max: 3750, reverse: true,
        afterFit: s => { s.height = 47; },
        afterBuildTicks: s => { s.ticks = irTicksX.map(v => ({value: v})); },
        ticks: { color: '#000', font: { family: FONT, size: 14 }, padding: 4, maxRotation: 0, autoSkip: false, callback: v => String(v) } }),
      y: axisCommon({ min: 0, max: 4.29,
        afterFit: s => { s.width = 52; },
        afterBuildTicks: s => { s.ticks = irTicksY.map(v => ({value: v})); },
        ticks: { display: false } })
    }
  },
  plugins: [decorPlugin]
});
</script></body></html>
